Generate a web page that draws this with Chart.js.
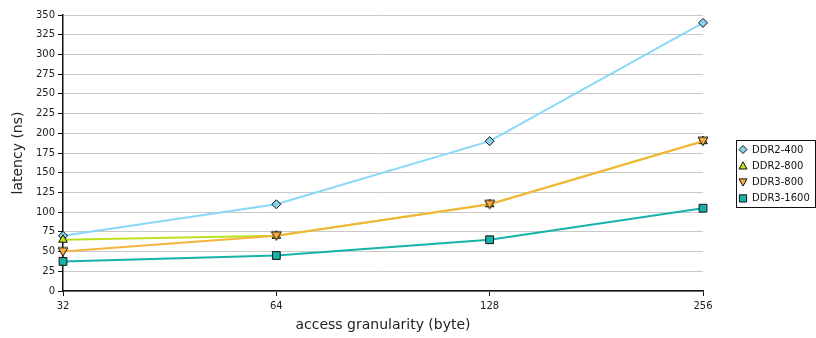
<!DOCTYPE html>
<html>
<head>
<meta charset="utf-8">
<script src="https://cdn.jsdelivr.net/npm/chart.js@4/dist/chart.umd.min.js"></script>
<style>
  html, body { margin: 0; padding: 0; background: #fff; }
  #wrap { width: 816px; height: 338px; position: relative; }
</style>
</head>
<body>
<div id="wrap"><canvas id="c"></canvas></div>
<script>
// access granularity in bytes
const granularity = ['32', '64', '128', '256'];
// latency in ns per memory type
const ddr2_400 = [70, 110, 190, 340];
const ddr2_800 = [65, 70, 110, 190];
const ddr3_800 = [50, 70, 110, 190];
const ddr3_1600 = [37.5, 45, 65, 105];
const yTicks = [0, 25, 50, 75, 100, 125, 150, 175, 200, 225, 250, 275, 300, 325, 350];

const FONT = 'DejaVu Sans, Verdana, sans-serif';

// later series are painted on top of earlier ones
function series(label, data, color, fill, style, radius, order) {
  return {
    label, data, order,
    borderColor: color,
    backgroundColor: fill,
    borderWidth: 2,
    pointStyle: style,
    pointRadius: radius,
    pointHoverRadius: radius,
    pointBackgroundColor: fill,
    pointBorderColor: '#111',
    pointBorderWidth: 1,
    tension: 0,
    fill: false,
    clip: false
  };
}

function drawShape(ctx, style, r, x, y) {
  ctx.beginPath();
  if (style === 'rectRot') {
    ctx.moveTo(x, y - r); ctx.lineTo(x + r, y); ctx.lineTo(x, y + r); ctx.lineTo(x - r, y); ctx.closePath();
  } else if (style === 'rect') {
    const s = r * 0.9;
    ctx.rect(x - s, y - s, 2 * s, 2 * s);
  } else if (style === 'triangle') {
    ctx.moveTo(x, y - r); ctx.lineTo(x + r, y + r * 0.8); ctx.lineTo(x - r, y + r * 0.8); ctx.closePath();
  } else {
    // downward triangle
    ctx.moveTo(x, y + r); ctx.lineTo(x + r, y - r * 0.8); ctx.lineTo(x - r, y - r * 0.8); ctx.closePath();
  }
}

// boxed legend on the right, drawn from the datasets' own styles
const boxLegend = {
  id: 'boxLegend',
  afterDraw(chart) {
    const ctx = chart.ctx;
    const x0 = 736, y0 = 140, w = 80, h = 68;
    ctx.save();
    ctx.fillStyle = '#fff';
    ctx.fillRect(x0, y0, w, h);
    ctx.strokeStyle = '#111';
    ctx.lineWidth = 1;
    ctx.strokeRect(x0 + 0.5, y0 + 0.5, w - 1, h - 1);
    ctx.font = '10px ' + FONT;
    ctx.textBaseline = 'middle';
    ctx.textAlign = 'left';
    chart.data.datasets.forEach((ds, i) => {
      const cy = y0 + 9.5 + i * 16.3;
      drawShape(ctx, ds.pointStyle, 4, x0 + 7, cy);
      ctx.fillStyle = ds.pointBackgroundColor;
      ctx.strokeStyle = '#111';
      ctx.lineWidth = 1;
      ctx.fill();
      ctx.stroke();
      ctx.fillStyle = '#111';
      ctx.fillText(ds.label, x0 + 16, cy + 0.5);
    });
    ctx.restore();
  }
};

// downward triangle marker
const downTri = document.createElement('canvas');
downTri.width = 12; downTri.height = 12;
(function () {
  const c = downTri.getContext('2d');
  c.beginPath();
  c.moveTo(6, 10.5); c.lineTo(11, 2); c.lineTo(1, 2); c.closePath();
  c.fillStyle = '#f9ad3c'; c.fill();
  c.strokeStyle = '#111'; c.lineWidth = 1; c.stroke();
})();

const datasets = [
  series('DDR2-400', ddr2_400, '#8ad8f8', '#8ad3f0', 'rectRot', 4.5, 3),
  series('DDR2-800', ddr2_800, '#b9e21c', '#bce41a', 'triangle', 5, 2),
  series('DDR3-800', ddr3_800, '#f7b43c', '#f9ad3c', downTri, 5, 1),
  series('DDR3-1600', ddr3_1600, '#17b3ab', '#15b2aa', 'rect', 5.5, 0)
];

new Chart(document.getElementById('c'), {
  type: 'line',
  data: { labels: granularity, datasets },
  options: {
    responsive: true,
    maintainAspectRatio: false,
    animation: false,
    events: [],
    layout: { padding: { top: 15, right: 113, left: 0, bottom: 0 } },
    plugins: {
      legend: { display: false },
      tooltip: { enabled: false },
      title: { display: false }
    },
    scales: {
      x: {
        type: 'category',
        offset: false,
        afterFit(scale) { scale.height = 47; },
        grid: { display: true, drawOnChartArea: false, tickLength: 5, tickColor: '#111', tickWidth: 1 },
        border: { color: '#111', width: 1.5 },
        ticks: { color: '#222', font: { family: FONT, size: 10 }, padding: 4, maxRotation: 0, autoSkip: false },
        title: { display: true, text: 'access granularity (byte)', color: '#222', font: { family: FONT, size: 14 }, padding: { top: 0, bottom: 4 } }
      },
      y: {
        min: 0, max: 350,
        afterFit(scale) { scale.width = 63; },
        afterBuildTicks(scale) { scale.ticks = yTicks.map(v => ({ value: v })); },
        grid: { color: '#c9c9c9', lineWidth: 1, tickLength: 5, tickColor: '#111', tickWidth: 1 },
        border: { color: '#111', width: 1.5 },
        ticks: { color: '#222', font: { family: FONT, size: 10 }, padding: 3 },
        title: { display: true, text: 'latency (ns)', color: '#222', font: { family: FONT, size: 14 }, padding: { top: 10, bottom: 0 } }
      }
    }
  },
  plugins: [boxLegend]
});
</script>
</body>
</html>
